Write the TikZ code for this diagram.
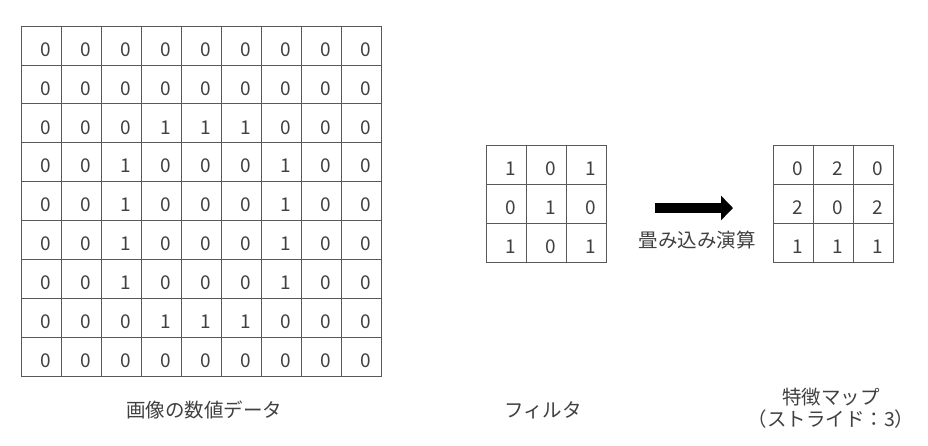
\documentclass[tikz,border=0pt]{standalone}
\usepackage{fontspec}
\setmainfont{Noto Sans CJK JP}
\usetikzlibrary{arrows.meta}
\definecolor{txtgray}{HTML}{404040}
\tikzset{
  cell/.style={draw=gray!70!black,line width=0.8pt,minimum width=40pt,minimum height=39pt,inner sep=0pt,outer sep=0pt},
  num/.style={text=txtgray,font=\fontsize{19}{21}\selectfont,xshift=5pt,yshift=-4pt,inner sep=0pt},
  caption/.style={text=txtgray,font=\fontsize{19.5}{22}\selectfont,align=center}
}
\begin{document}
\begin{tikzpicture}[x=1pt,y=-1pt]
  \useasboundingbox (0,0) rectangle (928,445);
  % image data
  \foreach \row [count=\r] in {{0,0,0,0,0,0,0,0,0},{0,0,0,0,0,0,0,0,0},{0,0,0,1,1,1,0,0,0},
      {0,0,1,0,0,0,1,0,0},{0,0,1,0,0,0,1,0,0},{0,0,1,0,0,0,1,0,0},
      {0,0,1,0,0,0,1,0,0},{0,0,0,1,1,1,0,0,0},{0,0,0,0,0,0,0,0,0}}{
    \foreach \v [count=\c] in \row
      \node[cell,minimum height=38.9pt,label={[num]center:\v}](img-\r-\c)at({1+40*\c},{26+38.9*(\r-0.5)}){};
  }
  \node[caption](imglabel)at(204,410){画像の数値データ};
  % filter
  \foreach \row [count=\r] in {{1,0,1},{0,1,0},{1,0,1}}{
    \foreach \v [count=\c] in \row
      \node[cell,label={[num]center:\v}](flt-\r-\c)at({466+40*\c},{145+39*(\r-0.5)}){};
  }
  \node[caption](fltlabel)at(543,410){フィルタ};
  % convolution
  \coordinate(arrs)at(655,208);
  \coordinate(arre)at(733,208);
  \draw[line width=10pt,-{Triangle[length=12pt,width=24pt]}](arrs)--(arre);
  \node[caption](convlabel)at(697,240){畳み込み演算};
  % feature map
  \foreach \row [count=\r] in {{0,2,0},{2,0,2},{1,1,1}}{
    \foreach \v [count=\c] in \row
      \node[cell,label={[num]center:\v}](map-\r-\c)at({753+40*\c},{145+39*(\r-0.5)}){};
  }
  \node[caption](maplabel)at(831,408){特徴マップ\\（ストライド：3）};
\end{tikzpicture}
\end{document}
